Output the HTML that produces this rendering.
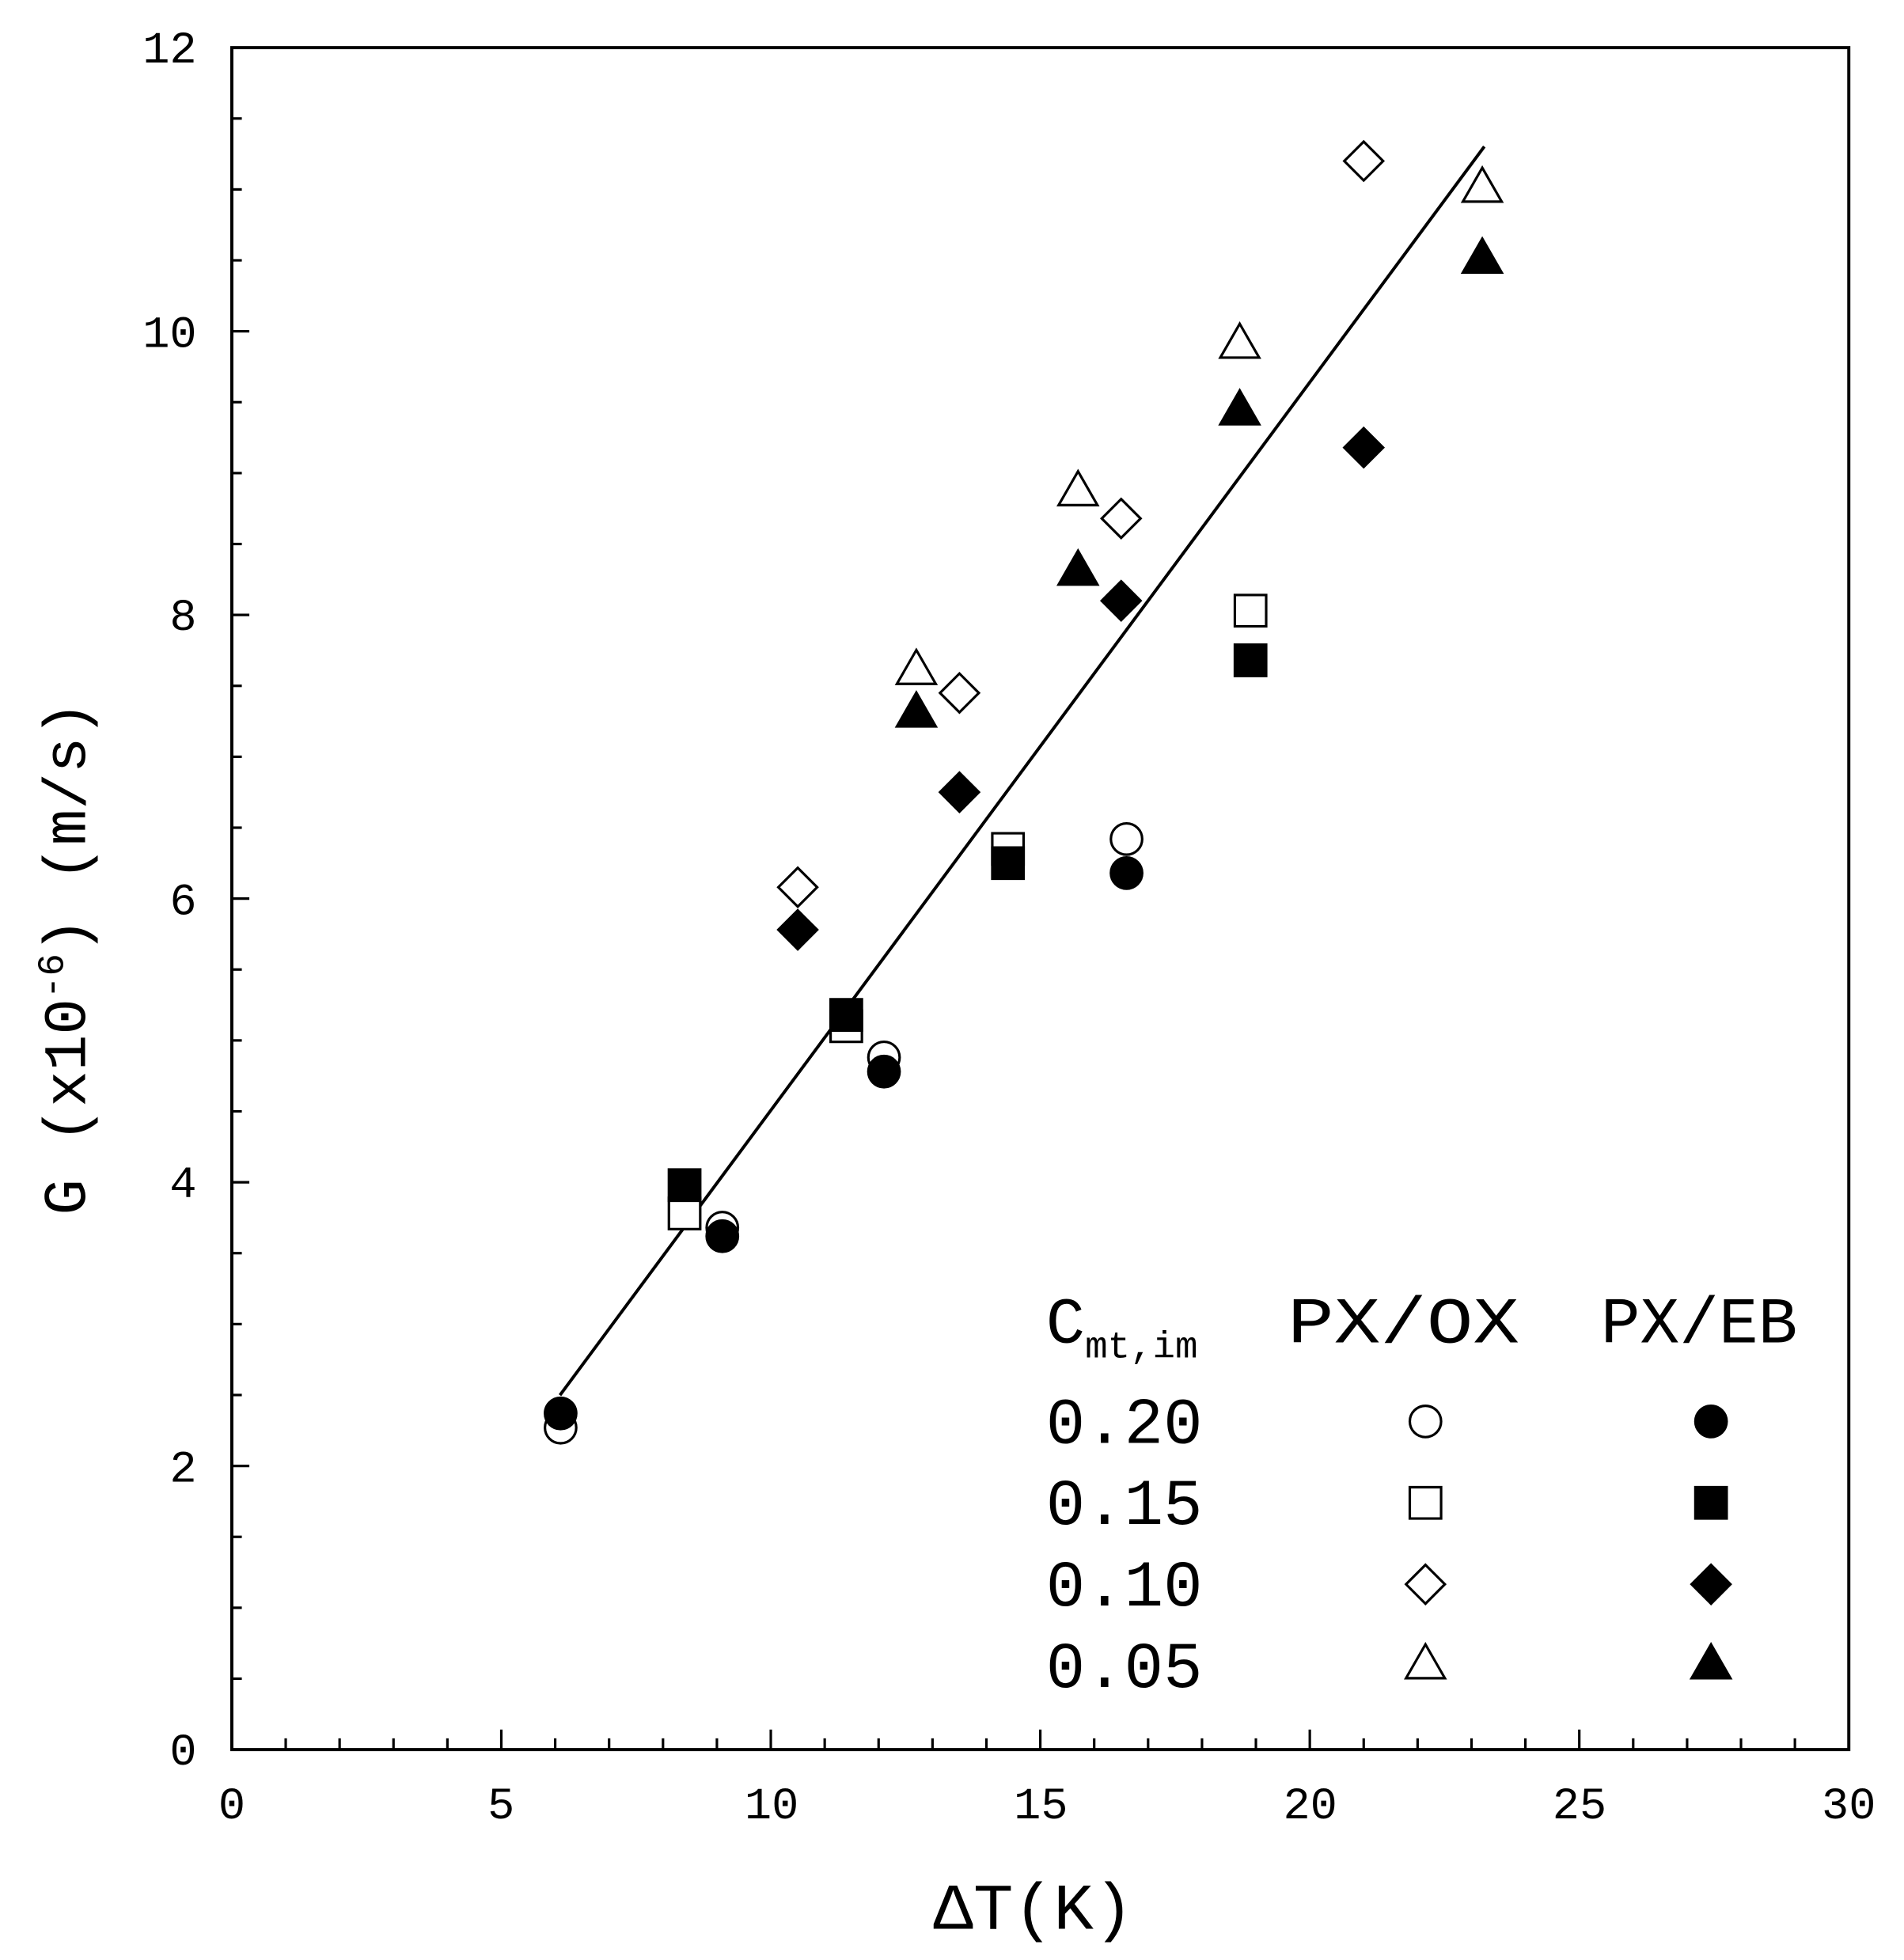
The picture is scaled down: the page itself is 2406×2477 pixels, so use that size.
<!DOCTYPE html>
<html><head><meta charset="utf-8"><style>html,body{margin:0;padding:0;background:#fff}svg{display:block}</style></head>
<body>
<svg width="2406" height="2477" viewBox="0 0 1520 1565" xmlns="http://www.w3.org/2000/svg" font-family="Liberation Mono, monospace">
<rect width="1520" height="1565" fill="#fff"/>
<g id="ticks" stroke="#000" stroke-width="2"></g>
<rect x="185" y="38" width="1291" height="1359" fill="none" stroke="#000" stroke-width="2.5"/>
<g font-size="36" fill="#000">
<text x="157" y="50" text-anchor="end">12</text>
<text x="157" y="277" text-anchor="end">10</text>
<text x="157" y="503" text-anchor="end">8</text>
<text x="157" y="730" text-anchor="end">6</text>
<text x="157" y="956" text-anchor="end">4</text>
<text x="157" y="1183" text-anchor="end">2</text>
<text x="157" y="1409" text-anchor="end">0</text>
<g text-anchor="middle">
<text x="185" y="1452">0</text><text x="400" y="1452">5</text><text x="616" y="1452">10</text><text x="831" y="1452">15</text><text x="1046" y="1452">20</text><text x="1261" y="1452">25</text><text x="1476" y="1452">30</text>
</g>
</g>
<text x="825" y="1540" font-size="52" text-anchor="middle" textLength="160" lengthAdjust="spacingAndGlyphs">ΔT(K)</text>
<text transform="translate(68,765) rotate(-90)" font-size="48" text-anchor="middle">G (x10<tspan font-size="30" dy="-18">-6</tspan><tspan dy="18">) (m/s)</tspan></text>
<line x1="447" y1="1114" x2="1185" y2="117" stroke="#000" stroke-width="2.5"/>
<g id="pts" stroke="#000" stroke-width="2"></g>
<g font-size="52" fill="#000">
<text x="835" y="1072">C<tspan font-size="30" dy="12">mt,im</tspan></text>
<text x="1028" y="1072" textLength="185" lengthAdjust="spacingAndGlyphs">PX/OX</text>
<text x="1278" y="1072" textLength="157" lengthAdjust="spacingAndGlyphs">PX/EB</text>
<text x="835" y="1152" textLength="125" lengthAdjust="spacingAndGlyphs">0.20</text>
<text x="835" y="1217" textLength="125" lengthAdjust="spacingAndGlyphs">0.15</text>
<text x="835" y="1282" textLength="125" lengthAdjust="spacingAndGlyphs">0.10</text>
<text x="835" y="1347" textLength="125" lengthAdjust="spacingAndGlyphs">0.05</text>
</g>
<script>
const NS="http://www.w3.org/2000/svg";
const X=v=>185+v*1291/30, Y=v=>1397-v*1359/12;
const tk=document.getElementById('ticks');
function ln(g,a,b,c,d){const l=document.createElementNS(NS,'line');l.setAttribute('x1',a);l.setAttribute('y1',b);l.setAttribute('x2',c);l.setAttribute('y2',d);g.appendChild(l);}
for(let i=1;i<30;i++){const L=i%5==0?16:9;ln(tk,X(i),1397,X(i),1397-L);}
for(let i=1;i<24;i++){const L=i%4==0?14:8;ln(tk,185,Y(i/2),185+L,Y(i/2));}
const g=document.getElementById('pts');
function mk(t,x,y,f){let e;const r=12.5;
 if(t=='c'){e=document.createElementNS(NS,'circle');e.setAttribute('cx',x);e.setAttribute('cy',y);e.setAttribute('r',r);}
 else{e=document.createElementNS(NS,'polygon');let p;
  if(t=='s')p=[[x-r,y-r],[x+r,y-r],[x+r,y+r],[x-r,y+r]];
  if(t=='d')p=[[x,y-15.5],[x+15.5,y],[x,y+15.5],[x-15.5,y]];
  if(t=='t')p=[[x,y-15],[x+15.5,y+12],[x-15.5,y+12]];
  e.setAttribute('points',p.map(q=>q.join(',')).join(' '));}
 e.setAttribute('fill',f?'#000':'#fff');g.appendChild(e);}
const D=[
['c',0,[[6.1,2.27],[9.1,3.68],[12.1,4.88],[16.6,6.42]]],
['c',1,[[6.1,2.37],[9.1,3.62],[12.1,4.78],[16.6,6.18]]],
['s',0,[[8.4,3.78],[11.4,5.1],[14.4,6.35],[18.9,8.03]]],
['s',1,[[8.4,3.98],[11.4,5.18],[14.4,6.25],[18.9,7.68]]],
['d',0,[[10.5,6.08],[13.5,7.45],[16.5,8.68],[21,11.2]]],
['d',1,[[10.5,5.78],[13.5,6.75],[16.5,8.1],[21,9.18]]],
['t',0,[[12.7,7.62],[15.7,8.88],[18.7,9.92],[23.2,11.02]]],
['t',1,[[12.7,7.32],[15.7,8.32],[18.7,9.45],[23.2,10.52]]]];
D.forEach(([t,f,ps])=>ps.forEach(([a,b])=>mk(t,X(a),Y(b),f)));
[['c',1135],['s',1200],['d',1265],['t',1328]].forEach(([t,y])=>{mk(t,1138,y,0);mk(t,1366,y,1);});
</script>
</svg>
</body></html>
